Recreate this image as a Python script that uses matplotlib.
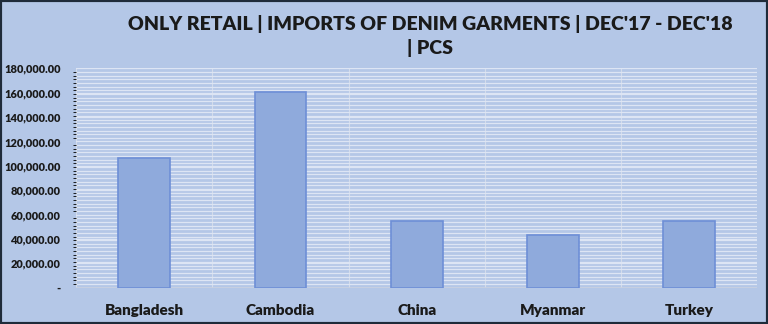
import matplotlib
matplotlib.use('Agg')
import matplotlib.pyplot as plt
from matplotlib.ticker import MultipleLocator, FuncFormatter

# Data
countries = ['Bangladesh', 'Cambodia', 'China', 'Myanmar', 'Turkey']
pcs = [106800, 160200, 54800, 43000, 54800]

BG = '#b4c7e7'
BAR = '#8faadc'
EDGE = '#6e8fd6'
TEXT = '#1a1a1a'

plt.rcParams['font.family'] = ['Lato', 'DejaVu Sans']

fig = plt.figure(figsize=(7.68, 3.24), dpi=100, facecolor=BG)
ax = fig.add_axes([0.099, 0.112, 0.887, 0.677])
ax.set_facecolor(BG)

x = list(range(len(countries)))
ax.bar(x, pcs, width=0.38, color=BAR, edgecolor=EDGE, linewidth=1.2, zorder=3)

ax.set_xlim(-0.5, len(countries) - 0.5)
ax.set_ylim(0, 180000)

ax.yaxis.set_major_locator(MultipleLocator(20000))
ax.yaxis.set_minor_locator(MultipleLocator(3000))
ax.yaxis.set_major_formatter(FuncFormatter(lambda v, p: '-' if v == 0 else f'{v:,.2f}'))
ax.grid(axis='y', which='both', color='#dde5f4', linewidth=0.9, zorder=1)

# vertical separators between categories
for b in [i - 0.5 for i in range(len(countries) + 1)]:
    ax.axvline(b, color='#d3dbea', linewidth=0.8, zorder=1)

ax.set_xticks(x)
ax.set_xticklabels(countries, fontsize=11, fontweight='heavy', color=TEXT)
ax.tick_params(axis='x', length=0, pad=12)
ax.tick_params(axis='y', length=0, pad=11, labelsize=7.9, labelcolor=TEXT)
for lbl in ax.get_yticklabels():
    lbl.set_fontweight('heavy')

for s in ax.spines.values():
    s.set_visible(False)
ax.axhline(0, color='#c9d1e0', linewidth=1.2, zorder=2)

fig.text(0.56, 0.925, "ONLY RETAIL | IMPORTS OF DENIM GARMENTS | DEC'17 - DEC'18",
         ha='center', va='center', fontsize=14, fontweight='heavy', color=TEXT)
fig.text(0.56, 0.852, "| PCS", ha='center', va='center', fontsize=14,
         fontweight='heavy', color=TEXT)

# dark frame around the picture
frame = plt.Rectangle((0, 0), 1, 1, transform=fig.transFigure, fill=False,
                      edgecolor='#1f2b3a', linewidth=3)
fig.patches.append(frame)

fig.savefig('out.png', dpi=100, facecolor=BG)
